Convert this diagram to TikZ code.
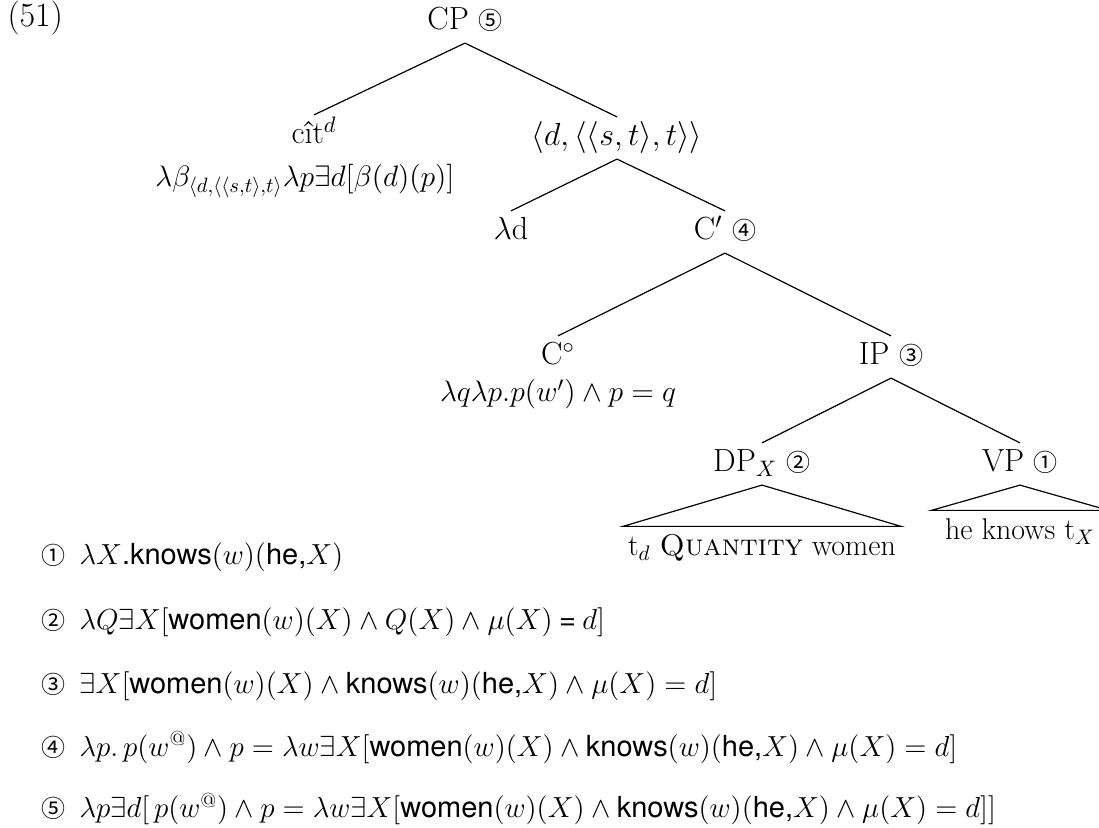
\RequirePackage{fix-cm}
\documentclass[tikz,border=0pt]{standalone}
\usepackage{fontspec}
\setsansfont{TeX Gyre Heros}
\newfontfamily\circfont{Noto Sans CJK JP}

\newcommand{\treesize}{\fontsize{16}{19}\selectfont}
\newcommand{\leafsize}{\fontsize{15}{18}\selectfont}
\newcommand{\semsize}{\fontsize{14.8}{17}\selectfont}
\newcommand{\linesize}{\fontsize{14.5}{17}\selectfont}
\newcommand{\circled}[1]{{\circfont\fontsize{12}{14}\selectfont #1}}
\newcommand{\pred}[1]{\mbox{\sffamily #1}}

\tikzset{
  cat/.style={font=\treesize, anchor=base, inner sep=2.75pt, text height=11.5pt, text depth=3.5pt},
  sem/.style={font=\semsize, anchor=base, inner sep=0pt},
  leaf/.style={font=\leafsize, anchor=base, inner xsep=0pt, inner ysep=3pt, text height=11.5pt, text depth=3.5pt},
  denot/.style={font=\linesize, anchor=base west, inner sep=0pt},
}

\begin{document}
\begin{tikzpicture}[x=.5pt,y=-.5pt,line width=.6pt]
  \useasboundingbox (0,0) rectangle (1099,828);
  \node[cat,anchor=base west,inner sep=0pt,font=\fontsize{17}{20}\selectfont] (ex) at (7,27) {(51)};
  % tree
  \node[cat] (cp) at (465,30) {CP \circled{⑤}};
  \node[cat] (cit) at (314,144) {cît$^d$};
  \node[sem] (citsem) at (305,187) {$\lambda\beta_{\langle d,\langle\langle s,t\rangle,t\rangle}\lambda p\exists d[\beta(d)(p)]$};
  \node[cat] (dtype) at (617,146) {$\langle d,\langle\langle s,t\rangle,t\rangle\rangle$};
  \node[cat] (lam) at (511,240) {$\lambda$d};
  \node[cat] (cbar) at (725,240) {C$'$ \circled{④}};
  \node[cat] (c0) at (558,365) {C$^\circ$};
  \node[sem] (c0sem) at (558,402) {$\lambda q\lambda p.p(w')\wedge p=q$};
  \node[cat] (ip) at (891,365) {IP \circled{③}};
  \node[cat] (dp) at (762,472) {DP$_X$ \circled{②}};
  \node[cat] (vp) at (1020,472) {VP \circled{①}};
  \node[leaf,minimum width=138.5pt] (dpleaf) at (762,556) {t$_d$ \textsc{Quantity} women};
  \node[leaf,minimum width=88pt] (vpleaf) at (1020,540) {he knows t$_X$};
  % branches
  \draw (cp.south) -- (cit.north);
  \draw (cp.south) -- (dtype.north);
  \draw (dtype.south) -- (lam.north);
  \draw (dtype.south) -- (cbar.north);
  \draw (cbar.south) -- (c0.north);
  \draw (cbar.south) -- (ip.north);
  \draw (ip.south) -- (dp.north);
  \draw (ip.south) -- (vp.north);
  \draw (dp.south) -- (dpleaf.north west) -- (dpleaf.north east) -- cycle;
  \draw (vp.south) -- (vpleaf.north west) -- (vpleaf.north east) -- cycle;
  % denotations
  \node[denot] (d1) at (41,565) {\circled{①}\hspace{7pt}$\lambda X\pred{.knows}(w)(\pred{he,}X)$};
  \node[denot] (d2) at (41,630) {\circled{②}\hspace{7pt}$\lambda Q\exists X[\pred{women}(w)(X)\wedge Q(X)\wedge\mu(X)\mathbin{\pred{=}}d]$};
  \node[denot] (d3) at (41,694) {\circled{③}\hspace{7pt}$\exists X[\pred{women}(w)(X)\wedge\pred{knows}(w)(\pred{he,}X)\wedge\mu(X)=d]$};
  \node[denot] (d4) at (41,756) {\circled{④}\hspace{7pt}$\lambda p.\,p(w^{@})\wedge p=\lambda w\exists X[\pred{women}(w)(X)\wedge\pred{knows}(w)(\pred{he,}X)\wedge\mu(X)=d]$};
  \node[denot] (d5) at (41,818) {\circled{⑤}\hspace{7pt}$\lambda p\exists d[\,p(w^{@})\wedge p=\lambda w\exists X[\pred{women}(w)(X)\wedge\pred{knows}(w)(\pred{he,}X)\wedge\mu(X)=d]]$};
\end{tikzpicture}
\end{document}
